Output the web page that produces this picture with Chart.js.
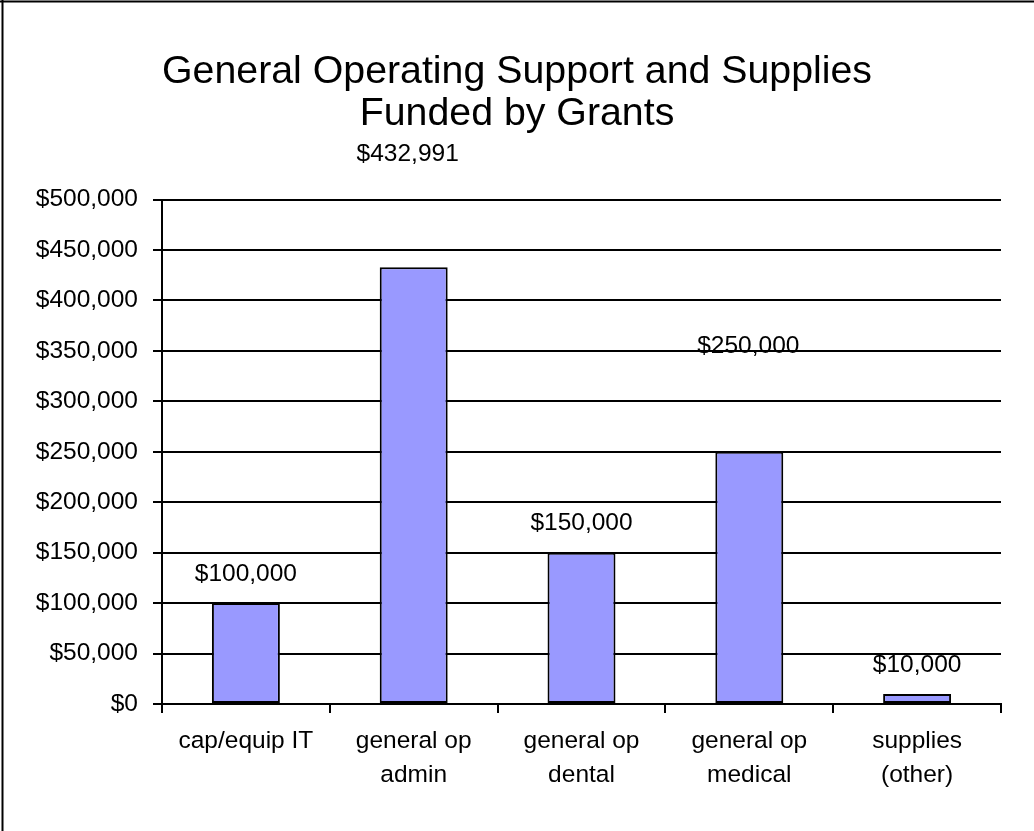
<!DOCTYPE html>
<html>
<head>
<meta charset="utf-8">
<script src="https://cdn.jsdelivr.net/npm/chart.js@4.4.1/dist/chart.umd.min.js"></script>
<style>
  html, body { margin: 0; padding: 0; background: #fff; }
  #wrap { width: 1034px; height: 831px; position: relative; }
</style>
</head>
<body>
<div id="wrap"><canvas id="c"></canvas></div>
<script>
const categories = [
  ['cap/equip IT'],
  ['general op', 'admin'],
  ['general op', 'dental'],
  ['general op', 'medical'],
  ['supplies', '(other)']
];
const amounts = [100000, 432991, 150000, 250000, 10000];
const yTicks = [0, 50000, 100000, 150000, 200000, 250000, 300000, 350000, 400000, 450000, 500000];
const titleLines = ['General Operating Support and Supplies', 'Funded by Grants'];

const FONT = '"Liberation Sans", Arial, Helvetica, sans-serif';

function money(v) {
  return '$' + Math.round(v).toLocaleString('en-US');
}

const frame = {
  id: 'frame',
  afterDraw(chart) {
    const ctx = chart.ctx;
    ctx.save();
    ctx.strokeStyle = '#000';
    ctx.lineWidth = 2;
    ctx.beginPath();
    ctx.moveTo(0, 1.5); ctx.lineTo(chart.width, 1.5);
    ctx.moveTo(2.5, 0); ctx.lineTo(2.5, chart.height);
    ctx.stroke();
    ctx.restore();
  }
};

const valueLabels = {
  id: 'valueLabels',
  afterDatasetsDraw(chart, args, opts) {
    const ctx = chart.ctx;
    const meta = chart.getDatasetMeta(0);
    ctx.save();
    ctx.font = opts.size + 'px ' + FONT;
    ctx.fillStyle = '#000';
    ctx.textAlign = 'center';
    ctx.textBaseline = 'middle';
    meta.data.forEach((bar, i) => {
      const s = (opts.shift && opts.shift[i]) || [0, opts.gap];
      ctx.fillText(money(amounts[i]), bar.x + s[0], bar.y + s[1]);
    });
    ctx.restore();
  }
};

const chart = new Chart(document.getElementById('c'), {
  type: 'bar',
  data: {
    labels: categories,
    datasets: [{
      data: amounts,
      backgroundColor: '#9999FF',
      borderColor: '#000',
      borderWidth: 2,
      borderSkipped: false,
      categoryPercentage: 1.0,
      barPercentage: 0.405
    }]
  },
  options: {
    responsive: true,
    maintainAspectRatio: false,
    animation: false,
    layout: { padding: 0 },
    plugins: {
      legend: { display: false },
      tooltip: { enabled: false },
      title: {
        display: true,
        text: titleLines,
        color: '#000',
        font: { family: FONT, size: 39.3, weight: 'normal', lineHeight: 1.05 },
        padding: { top: 52, bottom: 65 }
      },
      valueLabels: {
        size: 24.5,
        gap: -29,
        shift: [null, [-6, -113], null, [-1, -106], null]
      }
    },
    scales: {
      x: {
        grid: {
          display: true,
          drawOnChartArea: false,
          drawTicks: true,
          tickLength: 9,
          color: '#000',
          lineWidth: 2,
          offset: true
        },
        border: { display: true, color: '#000', width: 2 },
        ticks: {
          color: '#000',
          font: { family: FONT, size: 24.5, lineHeight: 1.39 },
          padding: 11,
          maxRotation: 0,
          autoSkip: false
        },
        afterFit(scale) { scale.height = 127; }
      },
      y: {
        min: 0,
        max: 500000,
        afterBuildTicks(scale) { scale.ticks = yTicks.map(v => ({ value: v })); },
        grid: {
          color: '#000',
          lineWidth: 2,
          tickLength: 9,
          drawTicks: true
        },
        border: { display: true, color: '#000', width: 2 },
        ticks: {
          color: '#000',
          font: { family: FONT, size: 24.5 },
          padding: 15,
          callback: (v) => money(v)
        },
        afterFit(scale) { scale.width = 162; }
      },
      ySpacer: {
        position: 'right',
        min: 0,
        max: 500000,
        grid: { display: false, drawOnChartArea: false },
        border: { display: false },
        ticks: { display: false },
        afterFit(scale) { scale.width = 33; }
      }
    }
  },
  plugins: [valueLabels, frame]
});
</script>
</body>
</html>
